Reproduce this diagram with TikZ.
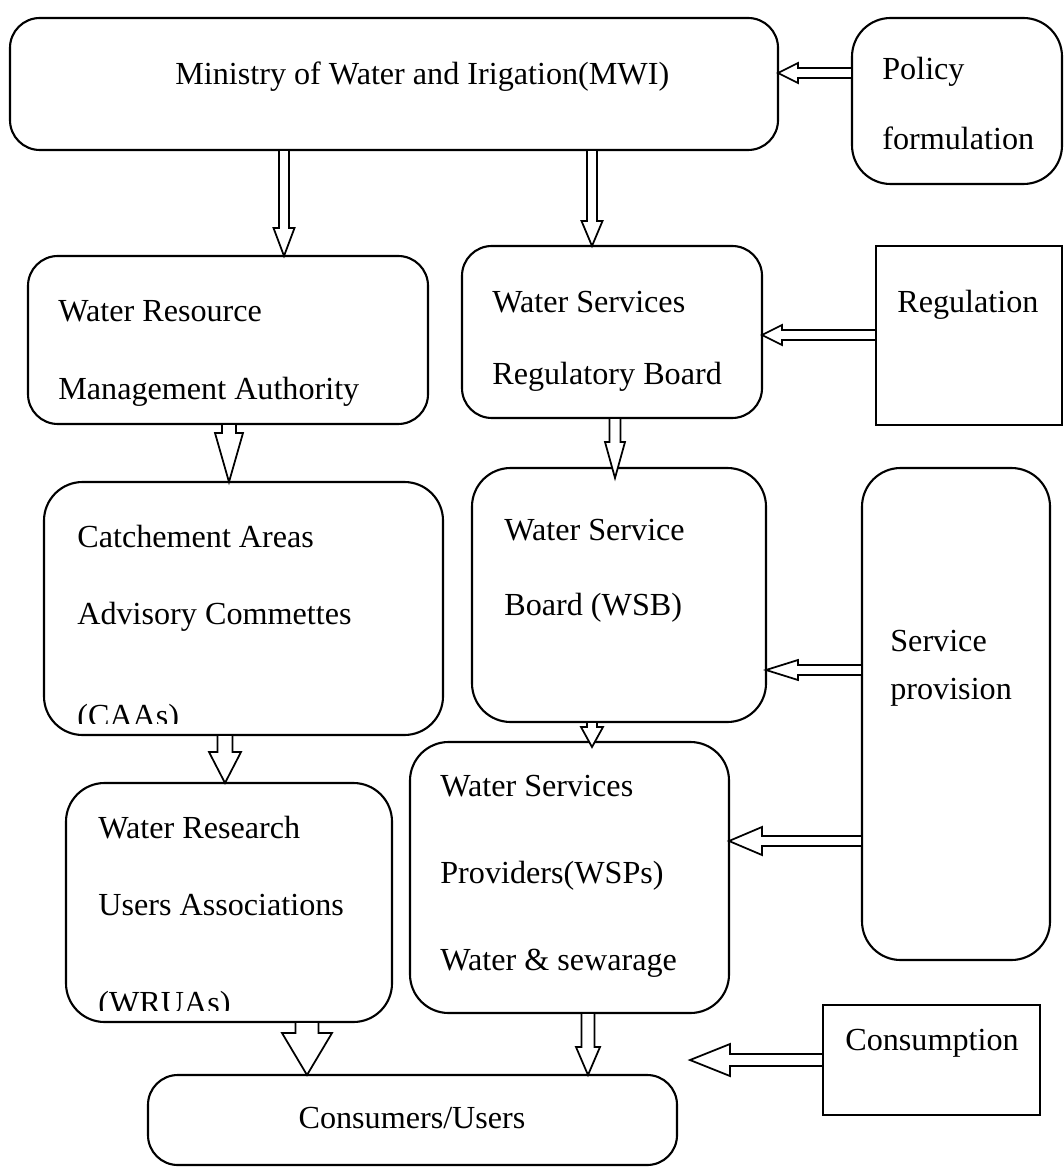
\documentclass[tikz,border=0pt]{standalone}
\usepackage{fontspec}
\setmainfont{Liberation Serif}
\usetikzlibrary{calc,fit}

\tikzset{
  box/.style={draw, line width=1.2pt, rounded corners=#1, inner sep=0pt, outer sep=0pt},
  box/.default=17pt,
  flat/.style={draw, line width=1.2pt, inner sep=0pt, outer sep=0pt},
  txt/.style={anchor=base west, inner sep=0pt, font=\fontsize{18.3}{22}\selectfont},
  blk/.style={draw, fill=white, line width=1pt, line join=miter},
}

% block arrow pointing down: start, tip, shaft half, head half, head length
\newcommand{\downblock}[5]{%
  \draw[blk] ($#1+(-#3,0)$) -- ($#2+(-#3,-#5)$) -- ($#2+(-#4,-#5)$) -- #2
    -- ($#2+(#4,-#5)$) -- ($#2+(#3,-#5)$) -- ($#1+(#3,0)$) -- cycle;}
% block arrow pointing left: start, tip, shaft half, head half, head length
\newcommand{\leftblock}[5]{%
  \draw[blk] ($#1+(0,-#3)$) -- ($#2+(#5,-#3)$) -- ($#2+(#5,-#4)$) -- #2
    -- ($#2+(#5,#4)$) -- ($#2+(#5,#3)$) -- ($#1+(0,#3)$) -- cycle;}

\begin{document}
\begin{tikzpicture}[x=0.02cm, y=-0.02cm]
\useasboundingbox (0,0) rectangle (1063,1168);

% boxes
\node[box, fit={(10,18) (778,150)}] (mwi) {};
\node[box=22pt, fit={(852,18) (1062,184)}] (pol) {};
\node[box, fit={(28,256) (428,424)}] (wrma) {};
\node[box, fit={(462,246) (762,418)}] (wsrb) {};
\node[flat, fit={(876,246) (1062,425)}] (reg) {};
\node[box=22pt, fit={(44,482) (443,735)}] (caa) {};
\node[box=22pt, fit={(472,468) (766,722)}] (wsb) {};
\node[box=22pt, fit={(862,468) (1050,960)}] (serv) {};
\node[box=22pt, fit={(66,783) (392,1022)}] (wrua) {};
\node[box=22pt, fit={(410,742) (729,1013)}] (wsp) {};
\node[flat, fit={(823,1005) (1040,1115)}] (cons) {};
\node[box, fit={(148,1075) (677,1165)}] (user) {};

% texts
\node[txt] (tmwi) at (175,85) {Ministry of Water and Irigation(MWI)};
\node[txt] (tpol1) at (882,80) {Policy};
\node[txt] (tpol2) at (882,150) {formulation};
\node[txt] (twrma1) at (58,322) {Water Resource};
\node[txt] (twrma2) at (58,400) {Management Authority};
\node[txt] (twsrb1) at (492,313) {Water Services};
\node[txt] (twsrb2) at (492,385) {Regulatory Board};
\node[txt] (treg) at (897,313) {Regulation};
\begin{scope}
  \clip (caa.north west) rectangle ($(caa.south east)+(0,-12)$);
  \node[txt] (tcaa1) at (77,547) {Catchement Areas};
  \node[txt] (tcaa2) at (77,624) {Advisory Commettes};
  \node[txt] (tcaa3) at (77,726) {(CAAs)};
\end{scope}
\node[txt] (twsb1) at (504,540) {Water Service};
\node[txt] (twsb2) at (504,615) {Board (WSB)};
\node[txt] (tserv1) at (890,651) {Service};
\node[txt] (tserv2) at (890,699) {provision};
\node[txt] (twsp1) at (440,796) {Water Services};
\node[txt] (twsp2) at (440,883) {Providers(WSPs)};
\node[txt] (twsp3) at (440,970) {Water \& sewarage};
\begin{scope}
  \clip (wrua.north west) rectangle ($(wrua.south east)+(0,-12)$);
  \node[txt] (twru1) at (98,838) {Water Research};
  \node[txt] (twru2) at (98,915) {Users Associations};
  \node[txt] (twru3) at (98,1013) {(WRUAs)};
\end{scope}
\node[txt] (tcons) at (845,1050) {Consumption};
\node[txt, anchor=base] (tuser) at (412,1128) {Consumers/Users};

% arrow axes
\coordinate (ax1) at (284,0);
\coordinate (ax2) at (592,0);
\coordinate (ax3) at (229,0);
\coordinate (ax4) at (615,0);
\coordinate (ax5) at (225,0);
\coordinate (ax6) at (592,0);
\coordinate (ax7) at (307,0);
\coordinate (ax8) at (588,0);
\coordinate (ay1) at (0,73);
\coordinate (ay2) at (0,335);
\coordinate (ay3) at (0,670);
\coordinate (ay4) at (0,841);
\coordinate (ay5) at (0,1060);
\coordinate (tip4) at (615,478);
\coordinate (tip6) at (592,747);
\coordinate (tip13) at (690,1060);

% arrows
\leftblock{(pol.west |- ay1)}{(mwi.east |- ay1)}{5}{10}{20}
\downblock{(mwi.south -| ax1)}{(wrma.north -| ax1)}{5}{10.5}{28}
\downblock{(mwi.south -| ax2)}{(wsrb.north -| ax2)}{5}{10.5}{25}
\leftblock{(reg.west |- ay2)}{(wsrb.east |- ay2)}{5}{10}{20}
\downblock{(wrma.south -| ax3)}{(caa.north -| ax3)}{7}{14}{49}
\downblock{(wsrb.south -| ax4)}{(tip4)}{5.5}{10}{36}
\leftblock{(serv.west |- ay3)}{(wsb.east |- ay3)}{5}{10}{32}
\leftblock{(serv.west |- ay4)}{(wsp.east |- ay4)}{5}{14}{33}
\downblock{(wsb.south -| ax6)}{(tip6)}{5}{11}{20}
\downblock{(caa.south -| ax5)}{(wrua.north -| ax5)}{7.5}{16}{31}
\downblock{(wrua.south -| ax7)}{(user.north -| ax7)}{11.5}{25}{42}
\downblock{(wsp.south -| ax8)}{(user.north -| ax8)}{6.5}{12}{28}
\leftblock{(cons.west |- ay5)}{(tip13)}{6}{16}{40}
\end{tikzpicture}
\end{document}
